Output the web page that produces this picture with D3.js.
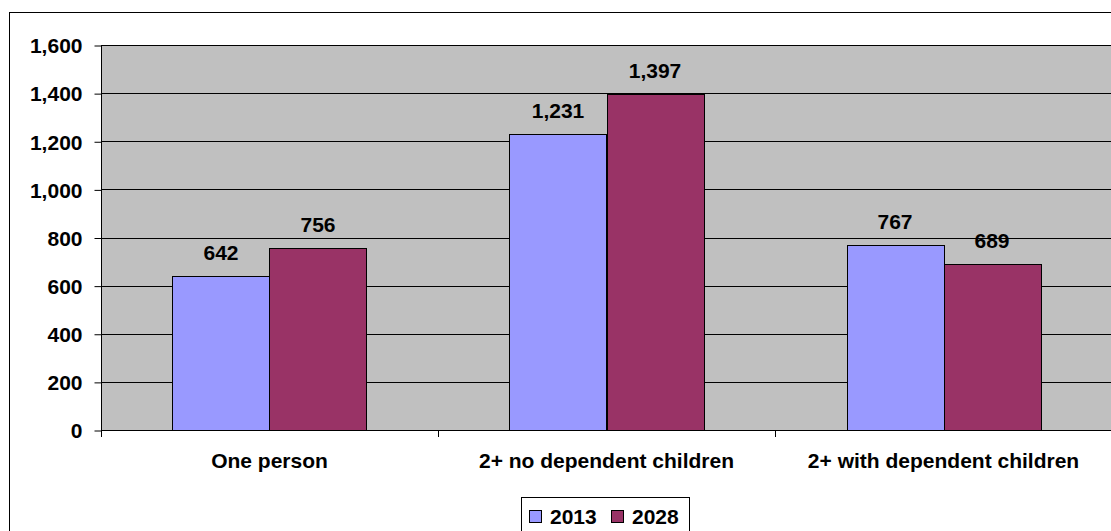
<!DOCTYPE html>
<html><head><meta charset="utf-8">
<script src="https://cdn.jsdelivr.net/npm/d3@7"></script>
<style>body{margin:0;background:#fff}svg{display:block}text{font-family:"Liberation Sans",Arial,sans-serif;font-weight:bold}</style>
</head><body>
<script>
const categories = ["One person", "2+ no dependent children", "2+ with dependent children"];
const seriesNames = ["2013", "2028"];
const values2013 = [642, 1231, 767];
const values2028 = [756, 1397, 689];
const yTicks = [0, 200, 400, 600, 800, 1000, 1200, 1400, 1600];
const colors = ["#9999FF", "#993366"];

const W = 1111, H = 531;
const FS = 21;
const svg = d3.select("body").append("svg").attr("width", W).attr("height", H);
svg.append("rect").attr("x", 9.5).attr("y", 12.5).attr("width", 1120).attr("height", 540)
  .attr("fill", "#fff").attr("stroke", "#000").attr("stroke-width", 1);

const L = 101, R = 1112, T = 45, B = 430;
const x = d3.scaleBand().domain(categories).range([L, R]).paddingInner(0.4243).paddingOuter(0.2121);
const xs = d3.scaleBand().domain(seriesNames).range([0, x.bandwidth()]);
const y = d3.scaleLinear().domain([0, 1600]).range([B, T]);

svg.append("rect").attr("x", L).attr("y", T).attr("width", R - L).attr("height", B - T).attr("fill", "#C0C0C0");
svg.append("g").selectAll("line").data(yTicks.slice(1)).join("line")
  .attr("x1", L).attr("x2", R).attr("y1", d => Math.round(y(d)) + 0.5).attr("y2", d => Math.round(y(d)) + 0.5)
  .attr("stroke", "#000").attr("stroke-width", 1);

const data = categories.map((c, i) => ({c, vals: [values2013[i], values2028[i]]}));
const g = svg.append("g");
data.forEach(d => {
  d.vals.forEach((v, j) => {
    const bx = x(d.c) + xs(seriesNames[j]);
    g.append("rect").attr("x", Math.round(bx) + 0.5).attr("y", Math.round(y(v)) + 0.5)
      .attr("width", Math.round(xs.bandwidth())).attr("height", Math.round(B - y(v)))
      .attr("fill", colors[j]).attr("stroke", "#000").attr("stroke-width", 1);
    g.append("text").attr("x", bx + xs.bandwidth() / 2).attr("y", y(v) - 16)
      .attr("text-anchor", "middle").attr("font-size", FS).attr("fill", "#000")
      .text(d3.format(",")(v));
  });
});

// y axis
const yAxis = d3.axisLeft(y).tickValues(yTicks).tickFormat(d3.format(",")).tickSize(7).tickPadding(12);
const ya = svg.append("g").attr("transform", `translate(${L + 0.5},0.5)`).call(yAxis);
ya.select(".domain").attr("d", `M0,${T}V${B}`).attr("stroke", "#000");
ya.selectAll("text").attr("font-size", FS).attr("fill", "#000").attr("dy", "0.35em")
  .style("font-family", "Liberation Sans, Arial, sans-serif");
ya.selectAll("line").attr("stroke", "#000");

// x axis
svg.append("line").attr("x1", L).attr("x2", R).attr("y1", B + 0.5).attr("y2", B + 0.5).attr("stroke", "#000");
[0, 1, 2, 3].forEach(i => {
  const xx = Math.round(L + i * (R - L) / 3) + 0.5;
  svg.append("line").attr("x1", xx).attr("x2", xx).attr("y1", B).attr("y2", B + 7).attr("stroke", "#000");
});
svg.append("g").selectAll("text").data(categories).join("text")
  .attr("x", d => x(d) + x.bandwidth() / 2).attr("y", 468)
  .attr("text-anchor", "middle").attr("font-size", FS).attr("fill", "#000").text(d => d);

// legend
const lg = svg.append("g").attr("transform", "translate(521,497)");
lg.append("rect").attr("x", 0.5).attr("y", 0.5).attr("width", 168).attr("height", 40).attr("fill", "#fff").attr("stroke", "#000");
seriesNames.forEach((s, i) => {
  const ox = 8 + i * 82;
  lg.append("rect").attr("x", ox + 0.5).attr("y", 13.5).attr("width", 12).attr("height", 12)
    .attr("fill", colors[i]).attr("stroke", "#000");
  lg.append("text").attr("x", ox + 21).attr("y", 27).attr("font-size", FS).attr("fill", "#000").text(s);
});
</script>
</body></html>
